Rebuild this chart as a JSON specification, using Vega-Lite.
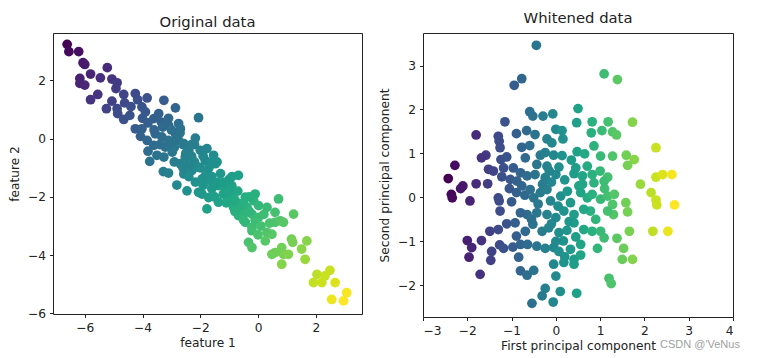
{
  "$schema": "https://vega.github.io/schema/vega-lite/v6.json",
  "padding": {"left": 8, "top": 10, "right": 5, "bottom": 5},
  "background": "white",
  "title": {"text": "CSDN @'VeNus", "orient": "bottom", "anchor": "start", "frame": "group", "offset": -13, "dx": 607, "fontSize": 11, "fontWeight": "normal", "color": "#a0a0a0", "font": "Liberation Sans"},
  "datasets": {
    "orig": [
      {"x":-6.61,"y":3.24,"c":-9.85},{"x":-6.55,"y":2.99,"c":-9.54},{"x":-6.21,"y":2.99,"c":-9.2},{"x":-6.06,"y":2.61,"c":-8.67},{"x":-6.0,"y":2.55,"c":-8.55},{"x":-5.8,"y":2.22,"c":-8.02},{"x":-6.17,"y":2.07,"c":-8.24},{"x":-6.17,"y":1.9,"c":-8.07},{"x":-6.0,"y":1.84,"c":-7.84},{"x":-5.46,"y":2.09,"c":-7.55},
      {"x":-5.22,"y":2.44,"c":-7.66},{"x":-5.06,"y":2.05,"c":-7.11},{"x":-4.88,"y":1.92,"c":-6.8},{"x":-4.92,"y":1.72,"c":-6.64},{"x":-5.8,"y":1.34,"c":-7.14},{"x":-5.55,"y":1.52,"c":-7.07},{"x":-5.25,"y":1.03,"c":-6.28},{"x":-5.06,"y":1.29,"c":-6.35},{"x":-4.88,"y":1.03,"c":-5.91},{"x":-4.86,"y":0.86,"c":-5.72},
      {"x":-4.65,"y":1.52,"c":-6.17},{"x":-4.62,"y":1.23,"c":-5.85},{"x":-4.65,"y":0.66,"c":-5.31},{"x":-4.44,"y":0.8,"c":-5.24},{"x":-4.25,"y":1.55,"c":-5.8},{"x":-4.17,"y":1.34,"c":-5.51},{"x":-4.02,"y":1.09,"c":-5.11},{"x":-3.84,"y":1.4,"c":-5.24},{"x":-3.9,"y":0.92,"c":-4.82},{"x":-4.25,"y":0.34,"c":-4.59},
      {"x":-4.02,"y":0.34,"c":-4.36},{"x":-3.81,"y":0.54,"c":-4.35},{"x":-3.61,"y":0.69,"c":-4.3},{"x":-3.44,"y":0.86,"c":-4.3},{"x":-3.26,"y":1.32,"c":-4.58},{"x":-2.86,"y":1.06,"c":-3.92},{"x":-3.35,"y":0.57,"c":-3.92},{"x":-3.1,"y":0.46,"c":-3.56},{"x":-2.75,"y":0.52,"c":-3.27},{"x":-2.69,"y":0.34,"c":-3.03},
      {"x":-2.06,"y":0.72,"c":-2.78},{"x":-4.07,"y":0.08,"c":-4.15},{"x":-3.84,"y":-0.06,"c":-3.78},{"x":-3.81,"y":-0.43,"c":-3.38},{"x":-3.75,"y":-0.78,"c":-2.97},{"x":-3.5,"y":-0.57,"c":-2.93},{"x":-3.56,"y":0.17,"c":-3.73},{"x":-3.33,"y":0.06,"c":-3.39},{"x":-3.1,"y":-0.06,"c":-3.04},{"x":-2.86,"y":0.17,"c":-3.03},
      {"x":-2.75,"y":-0.06,"c":-2.69},{"x":-3.61,"y":-0.23,"c":-3.38},{"x":-3.21,"y":-0.29,"c":-2.92},{"x":-3.26,"y":-0.63,"c":-2.63},{"x":-2.97,"y":-0.46,"c":-2.51},{"x":-3.28,"y":-1.13,"c":-2.15},{"x":-3.1,"y":-1.18,"c":-1.92},{"x":-2.81,"y":-1.59,"c":-1.22},{"x":-2.69,"y":-0.86,"c":-1.83},{"x":-2.52,"y":-0.63,"c":-1.89},
      {"x":-2.57,"y":-0.17,"c":-2.4},{"x":-2.4,"y":-0.4,"c":-2.0},{"x":-2.46,"y":-1.79,"c":-0.67},{"x":-2.17,"y":0.02,"c":-2.19},{"x":-2.57,"y":-1.21,"c":-1.36},{"x":-2.29,"y":-1.09,"c":-1.2},{"x":-2.06,"y":-0.98,"c":-1.08},{"x":-2.17,"y":-1.49,"c":-0.68},{"x":-1.77,"y":-0.34,"c":-1.43},{"x":-1.83,"y":-0.75,"c":-1.08},
      {"x":-1.54,"y":-0.57,"c":-0.97},{"x":-1.48,"y":-0.86,"c":-0.62},{"x":-1.42,"y":-0.8,"c":-0.62},{"x":-1.94,"y":-1.38,"c":-0.56},{"x":-2.06,"y":-1.84,"c":-0.22},{"x":-1.94,"y":-1.9,"c":-0.04},{"x":-1.65,"y":-1.44,"c":-0.21},{"x":-1.6,"y":-1.72,"c":0.12},{"x":-1.37,"y":-1.61,"c":0.24},{"x":-1.71,"y":-2.02,"c":0.31},
      {"x":-1.77,"y":-2.41,"c":0.64},{"x":-1.37,"y":-2.18,"c":0.81},{"x":-1.14,"y":-1.67,"c":0.53},{"x":-0.91,"y":-1.61,"c":0.7},{"x":-0.68,"y":-1.26,"c":0.58},{"x":-0.91,"y":-2.01,"c":1.1},{"x":-0.62,"y":-2.24,"c":1.62},{"x":-1.03,"y":-2.13,"c":1.1},{"x":-0.85,"y":-2.36,"c":1.51},{"x":-0.44,"y":-2.01,"c":1.57},
      {"x":-0.38,"y":-2.36,"c":1.98},{"x":-0.1,"y":-1.9,"c":1.8},{"x":-0.15,"y":-2.13,"c":1.98},{"x":0.02,"y":-2.3,"c":2.32},{"x":-0.21,"y":-2.59,"c":2.38},{"x":0.02,"y":-2.7,"c":2.72},{"x":-0.68,"y":-2.64,"c":1.96},{"x":-0.44,"y":-2.87,"c":2.43},{"x":-0.21,"y":-3.05,"c":2.84},{"x":-0.21,"y":-3.16,"c":2.95},
      {"x":-0.33,"y":-3.56,"c":3.23},{"x":-0.21,"y":-3.74,"c":3.53},{"x":0.31,"y":-2.36,"c":2.67},{"x":0.31,"y":-3.22,"c":3.53},{"x":0.48,"y":-3.28,"c":3.76},{"x":0.59,"y":-2.87,"c":3.46},{"x":0.71,"y":-2.07,"c":2.78},{"x":0.59,"y":-2.53,"c":3.12},{"x":0.77,"y":-2.82,"c":3.59},{"x":0.88,"y":-2.87,"c":3.75},
      {"x":1.23,"y":-2.59,"c":3.82},{"x":0.82,"y":-3.74,"c":4.56},{"x":0.88,"y":-3.97,"c":4.85},{"x":1.05,"y":-3.97,"c":5.02},{"x":0.48,"y":-3.97,"c":4.45},{"x":0.59,"y":-3.91,"c":4.5},{"x":0.82,"y":-4.31,"c":5.13},{"x":1.16,"y":-3.45,"c":4.61},{"x":1.2,"y":-3.56,"c":4.76},{"x":1.51,"y":-3.79,"c":5.3},
      {"x":1.69,"y":-3.51,"c":5.2},{"x":1.63,"y":-4.14,"c":5.77},{"x":0.25,"y":-3.51,"c":3.76},{"x":1.92,"y":-4.94,"c":6.86},{"x":2.04,"y":-4.66,"c":6.7},{"x":2.21,"y":-4.94,"c":7.15},{"x":2.32,"y":-4.71,"c":7.03},{"x":2.49,"y":-4.52,"c":7.01},{"x":2.67,"y":-4.94,"c":7.61},{"x":2.55,"y":-5.52,"c":8.07},
      {"x":2.96,"y":-5.57,"c":8.53},{"x":3.07,"y":-5.29,"c":8.36},
      {"x":-3.0,"y":0.3,"c":-3.3},{"x":-2.8,"y":0.0,"c":-2.8},{"x":-2.6,"y":-0.2,"c":-2.4},{"x":-2.5,"y":-0.5,"c":-2.0},{"x":-2.3,"y":-0.6,"c":-1.7},{"x":-2.2,"y":-0.8,"c":-1.4},{"x":-2.0,"y":-0.4,"c":-1.6},{"x":-2.0,"y":-1.0,"c":-1.0},{"x":-1.8,"y":-1.2,"c":-0.6},{"x":-1.7,"y":-1.0,"c":-0.7},
      {"x":-1.6,"y":-1.3,"c":-0.3},{"x":-1.4,"y":-1.5,"c":0.1},{"x":-1.2,"y":-1.9,"c":0.7},{"x":-1.0,"y":-1.8,"c":0.8},{"x":-0.8,"y":-2.1,"c":1.3},{"x":-0.6,"y":-2.4,"c":1.8},{"x":-0.5,"y":-2.6,"c":2.1},{"x":-0.3,"y":-2.5,"c":2.2},{"x":-0.1,"y":-2.8,"c":2.7},{"x":-3.3,"y":0.4,"c":-3.7},
      {"x":-2.9,"y":-0.3,"c":-2.6},{"x":-2.4,"y":-0.9,"c":-1.5},{"x":-2.6,"y":-1.0,"c":-1.6},{"x":-1.9,"y":-1.6,"c":-0.3},{"x":-1.5,"y":-2.0,"c":0.5},{"x":-1.1,"y":-2.2,"c":1.1},{"x":-0.8,"y":-2.5,"c":1.7},{"x":-0.5,"y":-2.8,"c":2.3},{"x":0.1,"y":-3.0,"c":3.1},{"x":-3.1,"y":0.7,"c":-3.8},
      {"x":-2.7,"y":0.2,"c":-2.9},{"x":-2.2,"y":-0.2,"c":-2.0},{"x":-1.9,"y":-0.6,"c":-1.3},{"x":-1.3,"y":-1.2,"c":-0.1},{"x":-1.0,"y":-1.4,"c":0.4},{"x":-0.7,"y":-1.8,"c":1.1},{"x":-0.3,"y":-2.0,"c":1.7},
      {"x":-3.6,"y":0.3,"c":-3.9},{"x":-3.4,"y":-0.2,"c":-3.2},{"x":-2.3,"y":-0.2,"c":-2.1},{"x":-1.6,"y":-0.8,"c":-0.8},{"x":-1.2,"y":-1.5,"c":0.3},{"x":-0.9,"y":-1.3,"c":0.4},{"x":-0.5,"y":-2.2,"c":1.7},{"x":-2.4,"y":-1.3,"c":-1.1},{"x":-2.9,"y":-0.8,"c":-2.1},{"x":-3.0,"y":-0.1,"c":-2.9},
      {"x":0.2,"y":-2.6,"c":2.8},{"x":0.4,"y":-2.9,"c":3.3},{"x":0.0,"y":-3.3,"c":3.3},{"x":-4.4,"y":1.1,"c":-5.5},{"x":-4.0,"y":0.7,"c":-4.7}
    ],
    "white": [
      {"x":-0.44,"y":3.46},{"x":-0.77,"y":2.7},{"x":-0.94,"y":2.55},{"x":1.09,"y":2.81},{"x":1.39,"y":2.68},{"x":0.5,"y":2.02},{"x":-0.59,"y":1.95},{"x":-0.52,"y":1.85},{"x":-0.29,"y":1.85},{"x":-0.07,"y":1.9},
      {"x":-1.15,"y":1.72},{"x":-1.8,"y":1.42},{"x":-0.89,"y":1.45},{"x":-0.66,"y":1.52},{"x":-0.47,"y":1.43},{"x":0.0,"y":1.55},{"x":0.14,"y":1.52},{"x":0.47,"y":1.7},{"x":0.82,"y":1.72},{"x":1.18,"y":1.72},
      {"x":1.73,"y":1.71},{"x":1.04,"y":1.52},{"x":0.8,"y":1.47},{"x":1.28,"y":1.49},{"x":1.37,"y":1.42},{"x":-1.3,"y":1.39},{"x":-1.28,"y":1.28},{"x":-1.26,"y":1.13},{"x":-0.77,"y":1.14},{"x":-0.59,"y":1.18},
      {"x":-0.2,"y":1.33},{"x":-0.09,"y":1.24},{"x":0.16,"y":1.33},{"x":0.86,"y":1.17},{"x":2.26,"y":1.13},{"x":0.48,"y":1.04},{"x":0.65,"y":0.99},{"x":1.01,"y":0.94},{"x":1.28,"y":0.94},{"x":1.59,"y":0.96},
      {"x":1.77,"y":0.86},{"x":1.62,"y":0.73},{"x":-1.58,"y":0.96},{"x":-1.68,"y":0.9},{"x":-2.28,"y":0.73},{"x":-1.24,"y":0.86},{"x":-1.11,"y":0.92},{"x":-0.69,"y":0.9},{"x":-0.35,"y":0.96},{"x":-0.24,"y":1.02},
      {"x":-0.05,"y":0.96},{"x":0.14,"y":0.95},{"x":-1.52,"y":0.64},{"x":-1.41,"y":0.6},{"x":-1.18,"y":0.67},{"x":-0.96,"y":0.67},{"x":-0.8,"y":0.56},{"x":-0.43,"y":0.75},{"x":-0.2,"y":0.71},{"x":0.07,"y":0.69},
      {"x":0.45,"y":0.67},{"x":0.71,"y":0.71},{"x":1.0,"y":0.6},{"x":1.17,"y":0.46},{"x":1.09,"y":0.37},{"x":-2.43,"y":0.43},{"x":-2.1,"y":0.26},{"x":-2.15,"y":0.2},{"x":-1.8,"y":0.31},{"x":-1.54,"y":0.31},
      {"x":-1.22,"y":0.47},{"x":-1.03,"y":0.41},{"x":-0.88,"y":0.37},{"x":-0.65,"y":0.49},{"x":-0.47,"y":0.52},{"x":-0.24,"y":0.45},{"x":0.0,"y":0.52},{"x":0.41,"y":0.54},{"x":0.6,"y":0.49},{"x":0.82,"y":0.52},
      {"x":0.86,"y":0.33},{"x":2.26,"y":0.46},{"x":2.41,"y":0.52},{"x":2.62,"y":0.52},{"x":1.91,"y":0.3},{"x":-2.36,"y":0.07},{"x":-2.34,"y":-0.01},{"x":-1.94,"y":-0.08},{"x":-1.3,"y":-0.01},{"x":-1.28,"y":-0.08},
      {"x":-1.26,"y":-0.31},{"x":-0.89,"y":0.11},{"x":-0.77,"y":0.26},{"x":-0.58,"y":0.18},{"x":-0.5,"y":-0.01},{"x":-0.35,"y":0.11},{"x":-0.2,"y":0.18},{"x":-0.12,"y":-0.08},{"x":0.11,"y":0.03},{"x":0.26,"y":0.14},
      {"x":0.33,"y":-0.12},{"x":0.52,"y":0.26},{"x":0.56,"y":0.11},{"x":0.71,"y":-0.01},{"x":0.82,"y":0.07},{"x":1.01,"y":-0.04},{"x":1.17,"y":0.03},{"x":1.32,"y":0.07},{"x":1.28,"y":-0.16},{"x":2.15,"y":0.11},
      {"x":2.26,"y":-0.06},{"x":2.28,"y":-0.17},{"x":2.68,"y":-0.17},{"x":1.58,"y":-0.12},{"x":1.62,"y":-0.33},{"x":1.3,"y":-0.39},{"x":1.17,"y":-0.31},{"x":0.78,"y":-0.31},{"x":0.63,"y":-0.27},{"x":0.41,"y":-0.39},
      {"x":0.18,"y":-0.31},{"x":0.0,"y":-0.46},{"x":-0.2,"y":-0.39},{"x":-0.43,"y":-0.35},{"x":-0.65,"y":-0.39},{"x":-0.8,"y":-0.35},{"x":-1.11,"y":-0.6},{"x":-0.92,"y":-0.58},{"x":-0.89,"y":-0.88},{"x":-0.69,"y":-0.77},
      {"x":-0.52,"y":-0.61},{"x":-0.31,"y":-0.77},{"x":-0.16,"y":-0.69},{"x":0.07,"y":-0.8},{"x":0.17,"y":-0.99},{"x":0.41,"y":-0.58},{"x":0.63,"y":-0.73},{"x":0.82,"y":-0.77},{"x":1.01,"y":-0.77},{"x":1.09,"y":-0.92},
      {"x":1.38,"y":-0.93},{"x":1.66,"y":-0.77},{"x":2.19,"y":-0.77},{"x":2.53,"y":-0.77},{"x":-1.49,"y":-0.77},{"x":-1.3,"y":-0.73},{"x":-2.0,"y":-0.98},{"x":-1.9,"y":-1.14},{"x":-1.68,"y":-0.98},{"x":-1.45,"y":-1.23},
      {"x":-1.47,"y":-1.43},{"x":-1.27,"y":-1.08},{"x":-1.18,"y":-1.16},{"x":-0.97,"y":-1.13},{"x":-0.8,"y":-1.07},{"x":-0.64,"y":-1.07},{"x":-0.43,"y":-1.11},{"x":-0.24,"y":-1.16},{"x":-0.05,"y":-1.14},{"x":0.07,"y":-1.23},
      {"x":0.33,"y":-1.18},{"x":0.56,"y":-1.07},{"x":0.94,"y":-1.16},{"x":1.53,"y":-1.16},{"x":-1.96,"y":-1.36},{"x":-0.84,"y":-1.36},{"x":-0.05,"y":-1.52},{"x":0.18,"y":-1.48},{"x":0.41,"y":-1.52},{"x":0.41,"y":-1.41},
      {"x":0.56,"y":-1.31},{"x":1.5,"y":-1.41},{"x":1.73,"y":-1.41},{"x":-1.71,"y":-1.75},{"x":-0.8,"y":-1.67},{"x":-0.65,"y":-1.77},{"x":-0.5,"y":-1.66},{"x":0.0,"y":-1.79},{"x":1.2,"y":-1.84},{"x":1.25,"y":-1.96},
      {"x":-0.24,"y":-2.07},{"x":-0.31,"y":-2.24},{"x":0.1,"y":-2.14},{"x":0.47,"y":-2.18},{"x":-0.54,"y":-2.41},{"x":-0.06,"y":-2.38},
      {"x":-0.3,"y":0.3},{"x":-0.1,"y":0.35},{"x":0.2,"y":0.4},{"x":-0.4,"y":-0.15},{"x":0.05,"y":-0.2},{"x":0.3,"y":-0.55},{"x":-0.1,"y":-0.6},{"x":0.45,"y":-0.9},{"x":0.25,"y":-0.75},{"x":-0.7,"y":0.05},
      {"x":-1.0,"y":-0.1},{"x":-1.05,"y":0.2},{"x":-0.55,"y":-0.5},{"x":0.6,"y":0.3},{"x":0.9,"y":-0.5},{"x":1.1,"y":0.2},{"x":0.35,"y":0.85},{"x":-0.15,"y":0.6},{"x":0.2,"y":-1.35},{"x":0.0,"y":-1.0}
    ]
  },
  "hconcat": [
    {
      "width": 309,
      "height": 281,
      "title": {"text": "Original data", "offset": 3},
      "data": {"name": "orig"},
      "mark": {"type": "circle", "size": 95, "opacity": 1},
      "encoding": {
        "x": {"field": "x", "type": "quantitative", "scale": {"domain": [-7.1, 3.6], "nice": false, "zero": false}, "axis": {"values": [-6, -4, -2, 0, 2], "title": "feature 1"}},
        "y": {"field": "y", "type": "quantitative", "scale": {"domain": [-6.02, 3.63], "nice": false, "zero": false}, "axis": {"values": [-6, -4, -2, 0, 2], "title": "feature 2"}},
        "color": {"field": "c", "type": "quantitative", "scale": {"scheme": "viridis", "zero": false, "nice": false}, "legend": null}
      }
    },
    {
      "width": 310,
      "height": 284,
      "title": {"text": "Whitened data", "offset": 7},
      "data": {"name": "white"},
      "mark": {"type": "circle", "size": 95, "opacity": 1},
      "encoding": {
        "x": {"field": "x", "type": "quantitative", "scale": {"domain": [-3, 4], "nice": false, "zero": false}, "axis": {"values": [-3, -2, -1, 0, 1, 2, 3, 4], "title": "First principal component"}},
        "y": {"field": "y", "type": "quantitative", "scale": {"domain": [-2.72, 3.74], "nice": false, "zero": false}, "axis": {"values": [-2, -1, 0, 1, 2, 3], "title": "Second principal component"}},
        "color": {"field": "x", "type": "quantitative", "scale": {"scheme": "viridis", "zero": false, "nice": false}, "legend": null}
      }
    }
  ],
  "spacing": 61,
  "bounds": "flush",
  "resolve": {"scale": {"color": "independent", "x": "independent", "y": "independent"}},
  "config": {
    "font": "DejaVu Sans",
    "view": {"stroke": "#222", "strokeWidth": 1},
    "axis": {"grid": false, "domain": false, "ticks": true, "tickColor": "#222", "tickSize": 3.5, "labelColor": "#222", "titleColor": "#222", "labelFontSize": 12.2, "titleFontSize": 12.2, "titleFontWeight": "normal", "labelPadding": 4},
    "axisY": {"titlePadding": 6},
    "axisX": {"titlePadding": 3},
    "title": {"fontSize": 14.8, "fontWeight": "normal", "color": "#222"}
  }
}
